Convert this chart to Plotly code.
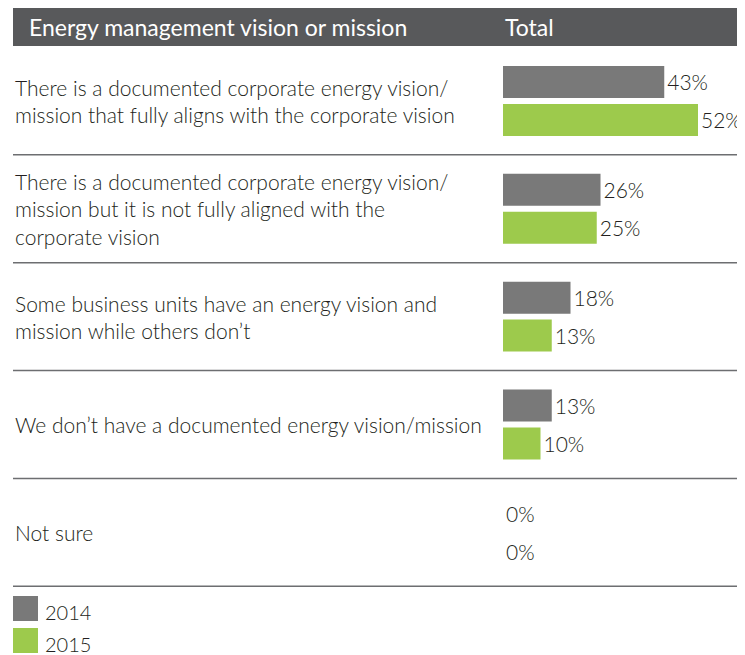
import plotly.graph_objects as go

# survey answers (top to bottom) and the share for each year
categories = [
    "There is a documented corporate energy vision/<br>mission that fully aligns with the corporate vision",
    "There is a documented corporate energy vision/<br>mission but it is not fully aligned with the<br>corporate vision",
    "Some business units have an energy vision and<br>mission while others don\u2019t",
    "We don\u2019t have a documented energy vision/mission",
    "Not sure",
]
years = ["2014", "2015"]
values_2014 = [43, 26, 18, 13, 0]
values_2015 = [52, 25, 13, 10, 0]
colors = ["#797979", "#9dca4c"]

# the page puts the figure 8px in from the top-left corner
W, H = 737, 647
FONT = "Lato"
TEXT = "#231f20"


def px(x):
    return x / W


def py(y):
    return 1 - y / H


fig = go.Figure()

for year, vals, col in zip(years, [values_2014, values_2015], colors):
    fig.add_trace(go.Bar(
        y=categories, x=vals,
        orientation="h",
        name=year,
        marker=dict(color=col, line=dict(width=0)),
        text=[f"{v}%" for v in vals],
        textposition="outside",
        textfont=dict(family=FONT, size=21, color=TEXT, weight=300),
        cliponaxis=False,
        constraintext="none",
        showlegend=False,
    ))

# category labels on the left
for c in categories:
    fig.add_annotation(
        x=px(5), xref="paper", y=c, yref="y",
        text=c, xanchor="left", yanchor="middle", align="left",
        showarrow=False, font=dict(family=FONT, size=21, color=TEXT, weight=300),
    )

# row separators
for k in range(len(categories)):
    fig.add_shape(type="line", xref="paper", yref="y",
                  x0=px(5), x1=1, y0=k + 0.5, y1=k + 0.5,
                  line=dict(color="#6d6e71", width=1.5))

# header band
fig.add_shape(type="rect", xref="paper", yref="paper",
              x0=px(5), x1=1, y0=py(38), y1=1,
              fillcolor="#58595b", line=dict(width=0))
fig.add_annotation(x=px(19), y=py(19), xref="paper", yref="paper",
                   text="Energy management vision or mission", showarrow=False,
                   xanchor="left", yanchor="middle",
                   font=dict(family=FONT, size=23, color="white"))
fig.add_annotation(x=px(495), y=py(19), xref="paper", yref="paper",
                   text="Total", showarrow=False,
                   xanchor="left", yanchor="middle",
                   font=dict(family=FONT, size=23, color="white"))

# legend squares
for i, (year, col) in enumerate(zip(years, colors)):
    top = 588 + i * 32
    fig.add_shape(type="rect", xref="paper", yref="paper",
                  x0=px(5), x1=px(30), y0=py(top + 25), y1=py(top),
                  fillcolor=col, line=dict(width=0))
    fig.add_annotation(x=px(35), y=py(top + 16), xref="paper", yref="paper",
                       text=year, showarrow=False, xanchor="left", yanchor="middle",
                       font=dict(family=FONT, size=20, color=TEXT, weight=300))

fig.update_layout(
    width=W, height=H,
    margin=dict(l=0, r=0, t=0, b=0),
    plot_bgcolor="white", paper_bgcolor="white",
    barmode="group", bargap=0.296, bargroupgap=0.158,
    xaxis=dict(domain=[px(495), 1], range=[0, 242 / 3.75], visible=False),
    yaxis=dict(domain=[py(579), py(39)], autorange="reversed",
               visible=False),
)

fig.write_html("out.html")
